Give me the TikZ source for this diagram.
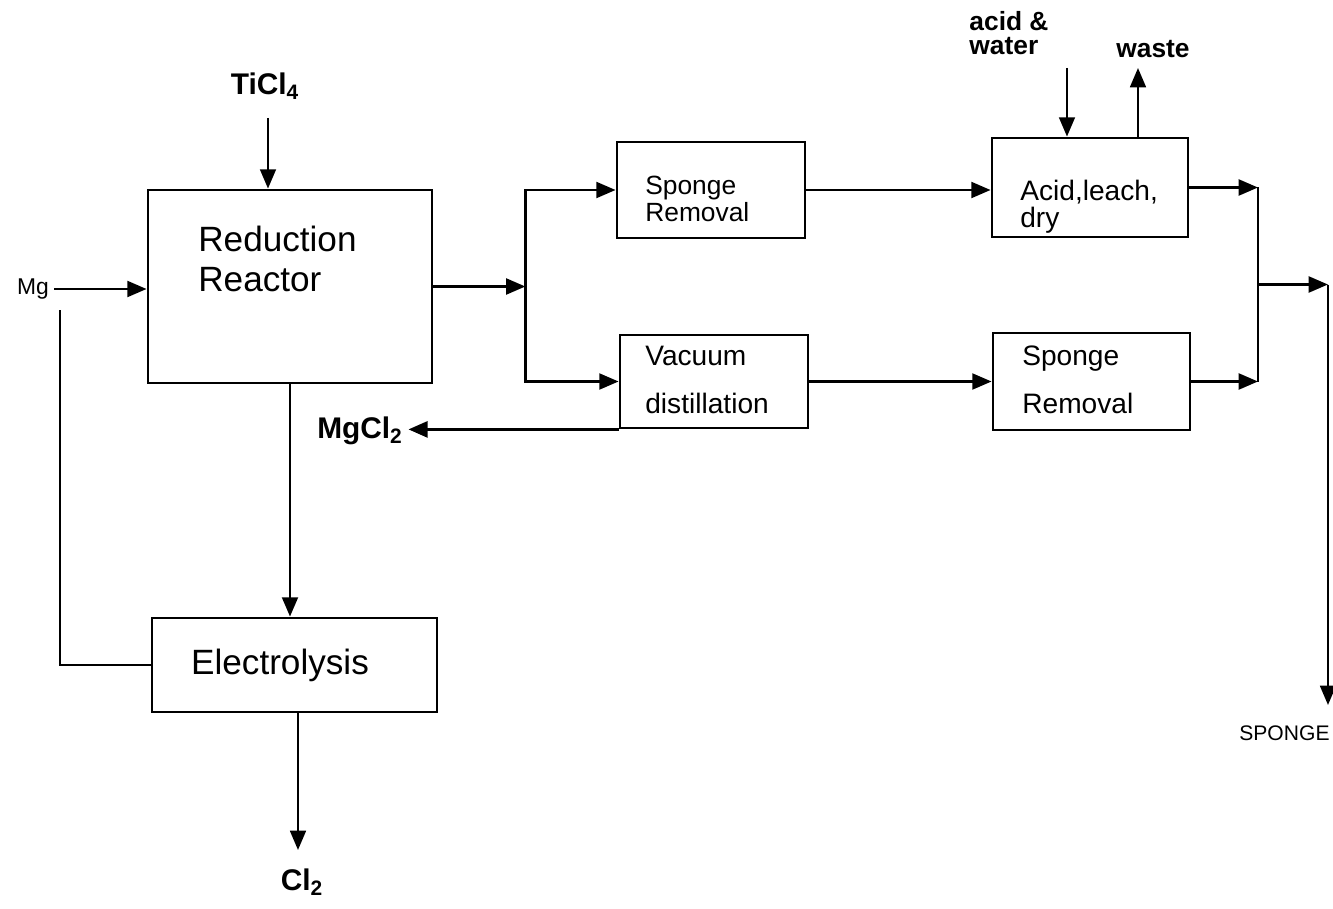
\documentclass[tikz,border=0pt]{standalone}
\usepackage{fontspec}
\setmainfont{Liberation Sans}
\usetikzlibrary{arrows.meta,positioning,calc,fit}

\begin{document}
\begin{tikzpicture}[
  x=0.02cm, y=-0.02cm,
  >={Triangle[length=11pt, width=9pt]},
  unit/.style={rectangle, draw, line width=1.6pt, inner sep=0pt},
  boxtxt/.style={anchor=north west, inner sep=0pt, align=left},
  feed/.style={inner sep=0pt, font=\bfseries\fontsize{17}{20}\selectfont},
  small/.style={inner sep=0pt, font=\fontsize{13}{15}\selectfont},
  flow/.style={->, line width=1.6pt},
  thin/.style={->, line width=1.3pt},
  pipe/.style={line width=1.6pt},
]
\useasboundingbox (0,0) rectangle (1333,909);

% process units
\node[unit, fit={(148,190) (432,383)}] (reactor) {};
\node[unit, fit={(152,618) (437,712)}] (elec)    {};
\node[unit, fit={(617,142) (805,238)}] (spong1)  {};
\node[unit, fit={(620,335) (808,428)}] (vac)     {};
\node[unit, fit={(992,138) (1188,237)}] (acid)   {};
\node[unit, fit={(993,333) (1190,430)}] (spong2) {};

% unit texts
\node[boxtxt, font=\fontsize{20}{22.7}\selectfont] (reactortxt) at (198,226) {Reduction\\Reactor};
\node[inner sep=0pt, font=\fontsize{20}{22}\selectfont] (electxt) at (280,665) {Electrolysis};
\node[boxtxt, font=\fontsize{15}{15.5}\selectfont] (spong1txt) at (645,176) {Sponge\\Removal};
\node[boxtxt, font=\fontsize{16}{27}\selectfont] (vactxt) at (645,346) {Vacuum\\distillation};
\node[boxtxt, font=\fontsize{16}{15}\selectfont] (acidtxt) at (1020,180) {Acid,leach,\\dry};
\node[boxtxt, font=\fontsize{16}{27}\selectfont] (spong2txt) at (1022,346) {Sponge\\Removal};

% feeds and products
\node[feed] (ticl)  at (265,86)  {TiCl\textsubscript{4}};
\node[small] (mg)   at (33,289)  {Mg};
\node[feed] (mgcl)  at (360,431) {MgCl\textsubscript{2}};
\node[feed] (cl)    at (302,882) {Cl\textsubscript{2}};
\node[inner sep=0pt, align=left, font=\bfseries\fontsize{15}{14}\selectfont] (acidin) at (1009,33) {acid \&\\water};
\node[inner sep=0pt, font=\bfseries\fontsize{15}{15}\selectfont] (waste) at (1153,49) {waste};
\node[small, anchor=west, font=\fontsize{12}{14}\selectfont] (sponge) at (1239,733) {SPONGE};

% free ends and junctions
\coordinate (ti0)   at (268,118);
\coordinate (mgret) at (60,310);
\coordinate (clend) at (298,850);
\coordinate (aw0)   at (1067,68);
\coordinate (wout)  at (1138,68);
\coordinate (split) at ($(reactor.east)+(92,0)$);
\coordinate (join)  at (1258,284.5);
\coordinate (join2) at (1328,284.5);
\coordinate (spend) at (1328,705);

% reactor side
\draw[thin] (ti0) -- (ti0 |- reactor.north);
\draw[flow] ([xshift=3pt]mg.east) -- (mg.east -| reactor.west);
\draw[line width=1.3pt] (mgret) |- (elec.west);
\draw[flow, line width=1.4pt] (reactor.south) -- (reactor.south |- elec.north);
\draw[thin] (elec.south -| clend) -- (clend);

% split to the two routes
\draw[flow] (reactor.east) -- (split);
\draw[flow] (split) |- (spong1.west);
\draw[flow] (split) |- (vac.west);
\draw[flow] (spong1.east) -- (spong1.east -| acid.west);
\draw[flow] (vac.east) -- (spong2.west);
\draw[flow, line width=2pt] (vac.south west) -- ([xshift=3pt]vac.south west -| mgcl.east);

% leach feeds
\draw[thin] (aw0) -- (aw0 |- acid.north);
\draw[thin] (wout |- acid.north) -- (wout);

% merge to sponge
\draw[flow] (acid.east) -- (acid.east -| join);
\draw[flow] (spong2.east) -- (spong2.east -| join);
\draw[pipe] (acid.east -| join) -- (spong2.east -| join);
\draw[flow] (join) -- (join2);
\draw[thin] (join2) -- (spend);

\end{tikzpicture}
\end{document}
